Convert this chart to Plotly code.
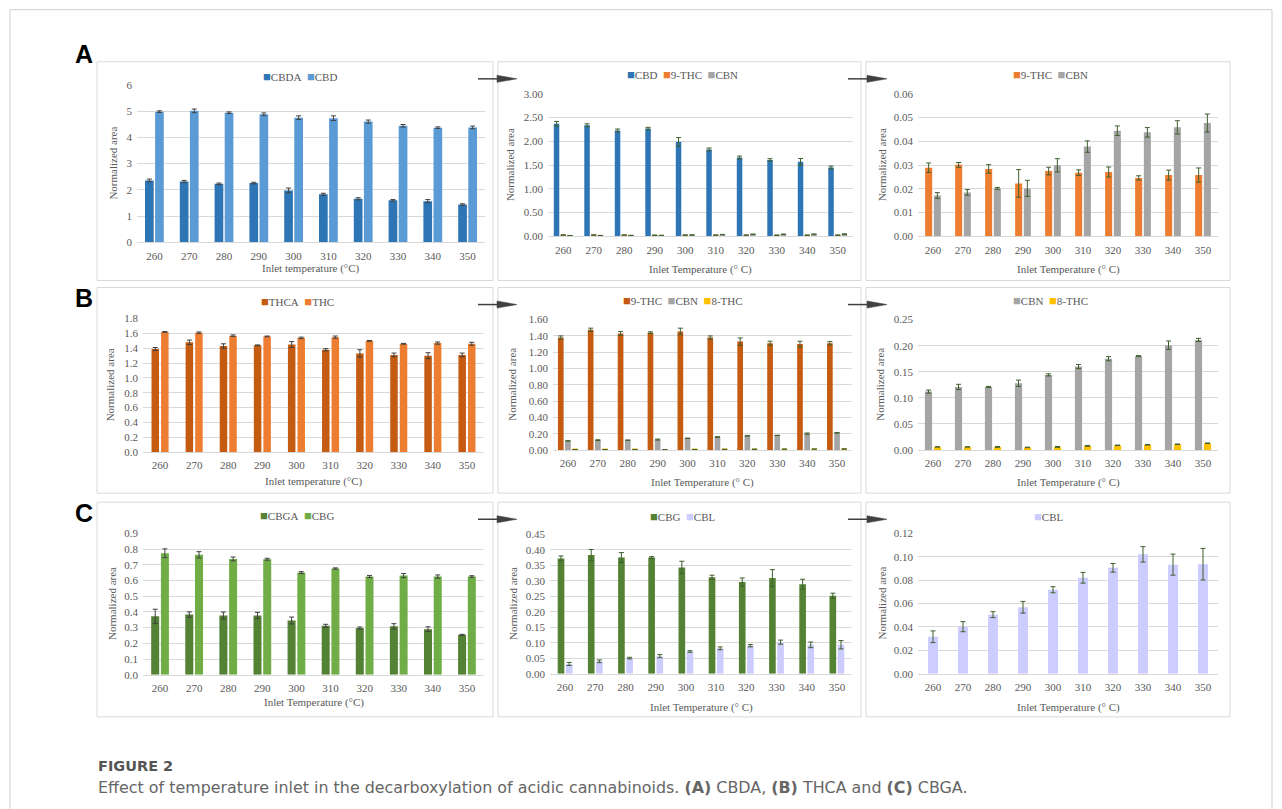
import plotly.graph_objects as go

# Figure fills the 1282x809 page (body margin removed by post_script).
# The photographed page shows the figure slightly squeezed vertically and
# shifted down, so reference pixel rows are mapped through that measured
# relation (row = 6.4 + 0.982 * figure_row).
FW, FH = 1282, 809
SHIFT_Y, SCALE_Y = 6.4, 0.982


def X(px):
    return px / FW


def Y(py):
    return 1 - ((py - SHIFT_Y) / SCALE_Y) / FH


temperatures = ["260", "270", "280", "290", "300", "310", "320", "330", "340", "350"]

# ---- Panel A ----
a1_cbda = [2.36, 2.32, 2.23, 2.26, 1.98, 1.83, 1.66, 1.60, 1.57, 1.44]
a1_cbda_err = [0.05, 0.04, 0.03, 0.03, 0.09, 0.04, 0.04, 0.03, 0.06, 0.03]
a1_cbd = [4.98, 5.01, 4.94, 4.88, 4.75, 4.73, 4.60, 4.44, 4.37, 4.38]
a1_cbd_err = [0.03, 0.07, 0.03, 0.05, 0.07, 0.09, 0.06, 0.05, 0.03, 0.05]

a2_cbd = [2.37, 2.34, 2.23, 2.27, 1.99, 1.83, 1.66, 1.61, 1.57, 1.45]
a2_cbd_err = [0.05, 0.03, 0.03, 0.025, 0.09, 0.03, 0.03, 0.025, 0.07, 0.03]

a_thc9 = [0.0289, 0.0301, 0.0284, 0.0223, 0.0275, 0.0268, 0.0271, 0.0246, 0.0258, 0.0258]
a_thc9_err = [0.0020, 0.0010, 0.0018, 0.0058, 0.0016, 0.0012, 0.0021, 0.0009, 0.0021, 0.0030]
a_cbn = [0.0172, 0.0185, 0.0202, 0.0202, 0.0299, 0.0378, 0.0445, 0.0438, 0.0459, 0.0477]
a_cbn_err = [0.0012, 0.0012, 0.0004, 0.0034, 0.0028, 0.0024, 0.0020, 0.0020, 0.0028, 0.0038]

# ---- Panel B ----
b1_thca = [1.39, 1.48, 1.43, 1.44, 1.45, 1.38, 1.33, 1.31, 1.30, 1.31]
b1_thca_err = [0.02, 0.03, 0.03, 0.005, 0.04, 0.015, 0.05, 0.025, 0.04, 0.025]
b1_thc = [1.62, 1.61, 1.57, 1.56, 1.54, 1.55, 1.50, 1.46, 1.47, 1.46]
b1_thc_err = [0.005, 0.01, 0.01, 0.005, 0.01, 0.015, 0.005, 0.005, 0.015, 0.02]

b2_thc9 = [1.38, 1.475, 1.43, 1.44, 1.455, 1.38, 1.33, 1.31, 1.30, 1.31]
b2_thc9_err = [0.02, 0.02, 0.025, 0.01, 0.04, 0.02, 0.045, 0.025, 0.035, 0.02]

b_cbn = [0.112, 0.121, 0.121, 0.128, 0.144, 0.160, 0.175, 0.180, 0.201, 0.211]
b_cbn_err = [0.003, 0.005, 0.001, 0.006, 0.002, 0.004, 0.004, 0.001, 0.008, 0.003]
b_thc8 = [0.006, 0.006, 0.006, 0.005, 0.006, 0.008, 0.009, 0.010, 0.011, 0.013]
b_thc8_err = [0.0003, 0.0003, 0.0008, 0.0005, 0.0008, 0.0008, 0.0005, 0.0005, 0.0005, 0.0005]

# ---- Panel C ----
c1_cbga = [0.372, 0.383, 0.377, 0.377, 0.345, 0.311, 0.297, 0.308, 0.290, 0.254]
c1_cbga_err = [0.045, 0.017, 0.022, 0.020, 0.022, 0.010, 0.007, 0.017, 0.015, 0.003]
c1_cbg = [0.773, 0.763, 0.737, 0.735, 0.650, 0.676, 0.625, 0.631, 0.625, 0.625]
c1_cbg_err = [0.028, 0.020, 0.012, 0.006, 0.006, 0.004, 0.007, 0.013, 0.010, 0.005]

c2_cbg = [0.372, 0.383, 0.375, 0.375, 0.343, 0.311, 0.296, 0.309, 0.289, 0.252]
c2_cbg_err = [0.008, 0.018, 0.016, 0.003, 0.020, 0.007, 0.013, 0.027, 0.016, 0.008]

c_cbl = [0.0316, 0.0402, 0.0505, 0.0568, 0.0718, 0.0820, 0.0905, 0.1020, 0.0932, 0.0936]
c_cbl_err = [0.0050, 0.0043, 0.0025, 0.0050, 0.0026, 0.0046, 0.0037, 0.0066, 0.0090, 0.0135]

# ---- colours ----
BLUE_D, BLUE = "#2E75B6", "#5B9BD5"
ORANGE, ORANGE_D = "#ED7D31", "#C55A11"
GRAY, GOLD = "#A5A5A5", "#FFC000"
GREEN_D, GREEN = "#548235", "#70AD47"
LAV = "#CCCCFF"
ERR_K, ERR_G = "#404040", "#3F5F2F"

SERIF = "Liberation Serif, Times New Roman, serif"
TXT = "#595959"

panels = [
    dict(box=(97, 62, 493, 280), plot=(137, 85, 485, 242), ymax=6, dtick=1, fmt="d",
         series=[("CBDA", a1_cbda, a1_cbda_err, BLUE_D), ("CBD", a1_cbd, a1_cbd_err, BLUE)],
         w=0.25, g=0.04, err=ERR_K, leg=(300, 77), xt="Inlet temperature (°C)", xty=268, ytx=113),
    dict(box=(498, 62, 861, 280), plot=(548, 94, 853, 236), ymax=3, dtick=0.5, fmt=".2f",
         series=[("CBD", a2_cbd, a2_cbd_err, BLUE_D), ("9-THC", a_thc9, a_thc9_err, ORANGE),
                 ("CBN", a_cbn, a_cbn_err, GRAY)],
         w=0.18, g=0.04, err=ERR_G, leg=(682, 75), xt="Inlet Temperature (° C)", xty=269, ytx=510),
    dict(box=(866, 62, 1230, 280), plot=(918, 94, 1218, 236), ymax=0.06, dtick=0.01, fmt=".2f",
         series=[("9-THC", a_thc9, a_thc9_err, ORANGE), ("CBN", a_cbn, a_cbn_err, GRAY)],
         w=0.235, g=0.055, err=ERR_G, leg=(1050, 75), xt="Inlet Temperature (° C)", xty=269, ytx=882),
    dict(box=(97, 287, 493, 492), plot=(143, 318, 484, 451), ymax=1.8, dtick=0.2, fmt=".1f",
         series=[("THCA", b1_thca, b1_thca_err, ORANGE_D), ("THC", b1_thc, b1_thc_err, ORANGE)],
         w=0.22, g=0.06, err=ERR_K, leg=(297, 301), xt="Inlet temperature (°C)", xty=480, ytx=110),
    dict(box=(498, 287, 861, 492), plot=(553, 319, 852, 449), ymax=1.6, dtick=0.2, fmt=".2f",
         series=[("9-THC", b2_thc9, b2_thc9_err, ORANGE_D), ("CBN", b_cbn, b_cbn_err, GRAY),
                 ("8-THC", b_thc8, b_thc8_err, GOLD)],
         w=0.19, g=0.05, err=ERR_G, leg=(683, 300), xt="Inlet Temperature (° C)", xty=481, ytx=512),
    dict(box=(866, 287, 1230, 492), plot=(918, 319, 1218, 449), ymax=0.25, dtick=0.05, fmt=".2f",
         series=[("CBN", b_cbn, b_cbn_err, GRAY), ("8-THC", b_thc8, b_thc8_err, GOLD)],
         w=0.24, g=0.06, err=ERR_G, leg=(1050, 300), xt="Inlet Temperature (° C)", xty=481, ytx=880),
    dict(box=(97, 501, 493, 715), plot=(143, 532, 484, 673), ymax=0.9, dtick=0.1, fmt=".1f",
         series=[("CBGA", c1_cbga, c1_cbga_err, GREEN_D), ("CBG", c1_cbg, c1_cbg_err, GREEN)],
         w=0.235, g=0.05, err=ERR_K, leg=(297, 514), xt="Inlet Temperature (°C)", xty=701, ytx=112),
    dict(box=(498, 501, 861, 715), plot=(550, 533, 852, 672), ymax=0.45, dtick=0.05, fmt=".2f",
         series=[("CBG", c2_cbg, c2_cbg_err, GREEN_D), ("CBL", c_cbl, c_cbl_err, LAV)],
         w=0.22, g=0.05, err=ERR_G, leg=(683, 515), xt="Inlet Temperature (° C)", xty=706, ytx=513),
    dict(box=(866, 501, 1230, 715), plot=(918, 532, 1218, 672), ymax=0.12, dtick=0.02, fmt=".2f",
         series=[("CBL", c_cbl, c_cbl_err, LAV)],
         w=0.33, g=0.0, err=ERR_G, leg=(1049, 515), xt="Inlet Temperature (° C)", xty=706, ytx=882),
]

fig = go.Figure()
layout = dict(
    width=FW, height=FH, margin=dict(l=0, r=0, t=0, b=0),
    paper_bgcolor="white", plot_bgcolor="white", showlegend=False, barmode="overlay",
    font=dict(family=SERIF, color=TXT, size=11),
)
shapes, annotations = [], []

# outer card
shapes.append(dict(type="rect", xref="paper", yref="paper", x0=X(10), x1=X(1272),
                   y0=Y(880), y1=Y(10), line=dict(color="#CFCFCF", width=1)))

for i, p in enumerate(panels):
    s = "" if i == 0 else str(i + 1)
    bx0, by0, bx1, by1 = p["box"]
    shapes.append(dict(type="rect", xref="paper", yref="paper", x0=X(bx0), x1=X(bx1),
                       y0=Y(by1), y1=Y(by0), line=dict(color="#D9D9D9", width=1),
                       layer="below"))
    x0, yt, x1, yb = p["plot"]
    n = len(p["series"])
    total = n * p["w"] + (n - 1) * p["g"]
    for k, (name, vals, errs, col) in enumerate(p["series"]):
        off = -total / 2 + k * (p["w"] + p["g"])
        fig.add_trace(go.Bar(
            x=temperatures, y=vals, name=name, marker=dict(color=col, line=dict(width=0)),
            width=p["w"], offset=off, xaxis="x" + s, yaxis="y" + s,
            error_y=dict(type="data", array=errs, visible=True, color=p["err"],
                         thickness=1, width=2.5),
        ))
    layout["xaxis" + s] = dict(
        domain=[X(x0), X(x1)], anchor="y" + s, type="category", range=[-0.5, 9.5],
        showgrid=False, showline=True, linecolor="#D9D9D9", linewidth=1, ticks="",
        ticklabelstandoff=3,
        tickfont=dict(family=SERIF, size=11, color=TXT), zeroline=False,
    )
    layout["yaxis" + s] = dict(
        domain=[Y(yb), Y(yt)], anchor="x" + s, range=[0, p["ymax"]],
        dtick=p["dtick"], tick0=0, tickformat=p["fmt"], showgrid=True, gridcolor="#D9D9D9",
        gridwidth=1, zeroline=False, showline=False, ticks="", ticklabelstandoff=4,
        tickfont=dict(family=SERIF, size=11, color=TXT),
    )
    # legend (Excel style: small colour square + name)
    items = ["<span style='color:%s;font-size:13px'>■</span>%s" % (c, nm)
             for nm, _, _, c in p["series"]]
    annotations.append(dict(
        xref="paper", yref="paper", x=X(p["leg"][0]), y=Y(p["leg"][1]),
        xanchor="center", yanchor="middle", showarrow=False,
        text="&nbsp;&nbsp;".join(items), font=dict(family=SERIF, size=11, color=TXT),
    ))
    # x axis title
    annotations.append(dict(
        xref="paper", yref="paper", x=X((x0 + x1) / 2), y=Y(p["xty"]),
        xanchor="center", yanchor="middle", showarrow=False, text=p["xt"],
        font=dict(family=SERIF, size=11, color=TXT),
    ))
    # y axis title
    annotations.append(dict(
        xref="paper", yref="paper", x=X(p["ytx"]), y=Y((yt + yb) / 2),
        xanchor="center", yanchor="middle", showarrow=False, text="Normalized area",
        textangle=-90, font=dict(family=SERIF, size=11, color=TXT),
    ))

# arrows between panels
for ay in (79, 304, 518):
    for (ax0, ax1) in ((478, 517), (848, 887)):
        shapes.append(dict(type="line", xref="paper", yref="paper", x0=X(ax0), x1=X(ax1 - 15),
                           y0=Y(ay), y1=Y(ay), line=dict(color="#404040", width=1.5)))
        shapes.append(dict(type="path", xref="paper", yref="paper",
                           path="M %f,%f L %f,%f L %f,%f Z" % (
                               X(ax1 - 20), Y(ay - 3.5), X(ax1), Y(ay),
                               X(ax1 - 20), Y(ay + 3.5)),
                           fillcolor="#404040", line=dict(color="#404040", width=0.5)))

# panel letters
for letter, ly in (("A", 54), ("B", 297), ("C", 512)):
    annotations.append(dict(
        xref="paper", yref="paper", x=X(84), y=Y(ly), xanchor="center", yanchor="middle",
        showarrow=False, text="<b>%s</b>" % letter,
        font=dict(family="Liberation Sans, Arial, sans-serif", size=25, color="black"),
    ))

# caption
annotations.append(dict(
    xref="paper", yref="paper", x=X(96), y=Y(764), xanchor="left", yanchor="middle",
    showarrow=False, text="<b>FIGURE 2</b>",
    font=dict(family="DejaVu Sans, sans-serif", size=14.5, color="#555555"),
))
annotations.append(dict(
    xref="paper", yref="paper", x=X(96), y=Y(785), xanchor="left", yanchor="middle",
    showarrow=False,
    text="Effect of temperature inlet in the decarboxylation of acidic cannabinoids. "
         "<b>(A)</b> CBDA, <b>(B)</b> THCA and <b>(C)</b> CBGA.",
    font=dict(family="DejaVu Sans, sans-serif", size=15.9, color="#666666"),
))

layout["shapes"] = shapes
layout["annotations"] = annotations
fig.update_layout(**layout)

fig.write_html("out.html", config={"displayModeBar": False},
               post_script="document.body.style.margin='0';")
